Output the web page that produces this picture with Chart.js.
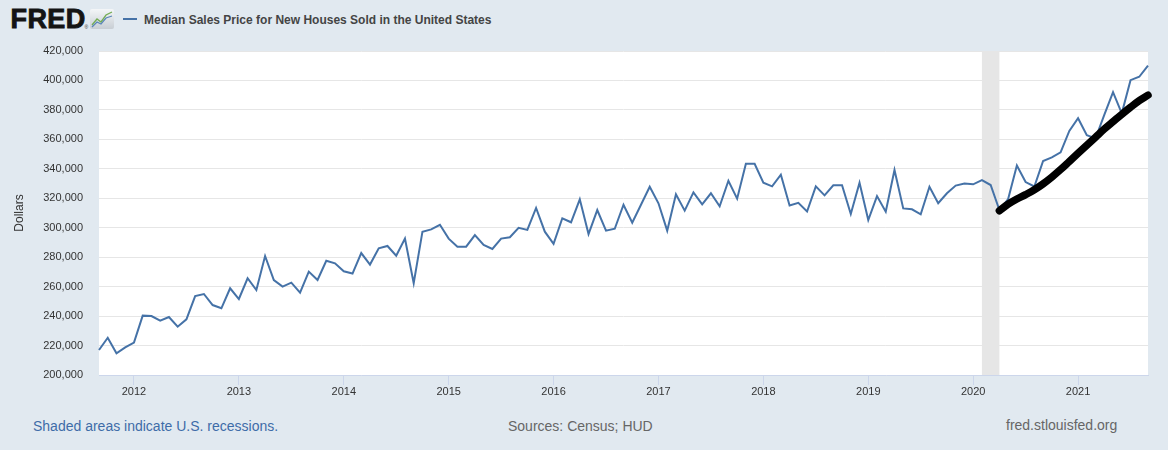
<!DOCTYPE html>
<html><head><meta charset="utf-8">
<script src="https://cdn.jsdelivr.net/npm/chart.js@4.4.1/dist/chart.umd.min.js"></script>
<style>
html,body{margin:0;padding:0;}
body{width:1168px;height:450px;background:#e1e9f0;position:relative;overflow:hidden;font-family:"Liberation Sans",Arial,sans-serif;}
.t{position:absolute;line-height:1;white-space:nowrap;}
#wrap{position:absolute;left:0;top:0;width:1168px;height:400px;}
</style></head><body>
<div class="t" style="left:10.5px;top:6.4px;font-size:27px;font-weight:bold;color:#141414;letter-spacing:0.4px;-webkit-text-stroke:0.9px #141414">FRED</div>
<div class="t" style="left:84.5px;top:25px;font-size:5px;color:#333">®</div>
<svg style="position:absolute;left:90px;top:9px" width="24" height="20" viewBox="0 0 24 20">
 <defs><linearGradient id="g" x1="0" y1="0" x2="0" y2="1"><stop offset="0" stop-color="#f4f6f8"/><stop offset="1" stop-color="#c8ced4"/></linearGradient></defs>
 <rect x="0" y="0" width="24" height="20" rx="2" fill="url(#g)"/>
 <polyline points="2,16 7,10 11,13 16,6 22,3" fill="none" stroke="#74ad55" stroke-width="1.3"/>
 <polyline points="2,18 7,13 11,15 16,9 22,7" fill="none" stroke="#5b87b8" stroke-width="1.3"/>
</svg>
<div style="position:absolute;left:123px;top:18px;width:14px;height:2px;background:#4572a7"></div>
<div class="t" style="left:144px;top:13.8px;font-size:12px;font-weight:bold;color:#444">Median Sales Price for New Houses Sold in the United States</div>
<div id="wrap"><canvas id="c" width="1168" height="400"></canvas></div>
<div class="t" style="left:33px;top:418.6px;font-size:14px;color:#3e6ca8">Shaded areas indicate U.S. recessions.</div>
<div class="t" style="left:508px;top:418.6px;font-size:14px;color:#666">Sources: Census; HUD</div>
<div class="t" style="left:1006px;top:418.3px;font-size:14px;color:#666">fred.stlouisfed.org</div>
<script>
const categories = [
 '2011-09','2011-10','2011-11','2011-12',
 '2012-01','2012-02','2012-03','2012-04','2012-05','2012-06','2012-07','2012-08','2012-09','2012-10','2012-11','2012-12',
 '2013-01','2013-02','2013-03','2013-04','2013-05','2013-06','2013-07','2013-08','2013-09','2013-10','2013-11','2013-12',
 '2014-01','2014-02','2014-03','2014-04','2014-05','2014-06','2014-07','2014-08','2014-09','2014-10','2014-11','2014-12',
 '2015-01','2015-02','2015-03','2015-04','2015-05','2015-06','2015-07','2015-08','2015-09','2015-10','2015-11','2015-12',
 '2016-01','2016-02','2016-03','2016-04','2016-05','2016-06','2016-07','2016-08','2016-09','2016-10','2016-11','2016-12',
 '2017-01','2017-02','2017-03','2017-04','2017-05','2017-06','2017-07','2017-08','2017-09','2017-10','2017-11','2017-12',
 '2018-01','2018-02','2018-03','2018-04','2018-05','2018-06','2018-07','2018-08','2018-09','2018-10','2018-11','2018-12',
 '2019-01','2019-02','2019-03','2019-04','2019-05','2019-06','2019-07','2019-08','2019-09','2019-10','2019-11','2019-12',
 '2020-01','2020-02','2020-03','2020-04','2020-05','2020-06','2020-07','2020-08','2020-09','2020-10','2020-11','2020-12',
 '2021-01','2021-02','2021-03','2021-04','2021-05','2021-06','2021-07','2021-08','2021-09'
];
const prices = [
 217000,225300,214700,218700,
 222000,240300,240000,236900,239400,232800,237800,253600,255000,247500,245300,258900,
 251600,265700,257700,280800,264500,260000,262700,255900,270200,264500,277600,275800,
 270400,268900,282800,275000,286000,287600,281000,292600,262300,297300,298900,302000,
 292600,287100,287100,295000,288300,285600,292600,293500,299900,298500,313400,297300,
 289000,306400,303700,319300,295700,312000,298000,299300,315600,303400,315600,327800,
 316600,298000,322700,311600,324000,315800,323400,314500,331900,319700,343400,343400,
 330600,328100,336000,315100,316900,311000,328100,322000,328800,328800,309300,330600,
 305200,321500,310900,339200,313100,312500,309100,327800,316600,323400,328600,330000,
 329500,332400,329000,312000,319500,342300,331000,328000,345300,347800,351200,365700,
 374300,362800,360700,376600,392000,377700,400200,402500,410000
];
const trendMonths = ['2020-04','2020-05','2020-06','2020-07','2020-08','2020-09','2020-10','2020-11','2020-12',
 '2021-01','2021-02','2021-03','2021-04','2021-05','2021-06','2021-07','2021-08','2021-09'];
const trendValues = [311500,316000,319500,322500,325800,329800,334400,339500,345000,
 350500,356000,361500,367000,372000,377000,381800,386300,390000];
const yTicks = [200000,220000,240000,260000,280000,300000,320000,340000,360000,380000,400000,420000];
const recessionStart = '2020-02', recessionEnd = '2020-04';

const FONT = '"Liberation Sans", Arial, sans-serif';
const fmt = v => String(v).replace(/\B(?=(\d{3})+(?!\d))/g, ',');

const bgPlugin = {
  id: 'plotbg',
  beforeDraw(chart) {
    const a = chart.chartArea, c = chart.ctx;
    c.save(); c.fillStyle = '#ffffff';
    c.fillRect(a.left, a.top, a.right - a.left, a.bottom - a.top);
    c.restore();
  }
};
const recessionPlugin = {
  id: 'recession',
  beforeDatasetsDraw(chart) {
    const xs = chart.scales.x, a = chart.chartArea, c = chart.ctx;
    const x0 = xs.getPixelForValue(categories.indexOf(recessionStart));
    const x1 = xs.getPixelForValue(categories.indexOf(recessionEnd));
    c.save(); c.fillStyle = '#e6e6e6';
    c.fillRect(x0, a.top, x1 - x0, a.bottom - a.top);
    c.restore();
  }
};

new Chart(document.getElementById('c'), {
  type: 'line',
  data: {
    labels: categories,
    datasets: [
      { data: prices, borderColor: '#4572a7', borderWidth: 2, pointRadius: 0, tension: 0, order: 2 },
      { data: trendMonths.map((m, i) => ({ x: m, y: trendValues[i] })), borderColor: '#000000', borderWidth: 7.5,
        borderCapStyle: 'round', borderJoinStyle: 'round', pointRadius: 0, cubicInterpolationMode: 'monotone',
        clip: false, order: 1 }
    ]
  },
  options: {
    responsive: false, animation: false, devicePixelRatio: 1,
    layout: { padding: { top: 51, right: 20, left: 0, bottom: 0 } },
    plugins: { legend: { display: false }, tooltip: { enabled: false } },
    scales: {
      x: {
        type: 'category', offset: false,
        grid: { drawOnChartArea: false, drawTicks: true, tickLength: 10,
          color: c => (c.tick && c.tick.label) ? '#ccd6eb' : 'rgba(0,0,0,0)' },
        border: { color: '#ccd6eb', width: 1 },
        ticks: { autoSkip: false, maxRotation: 0, padding: 0, color: '#333', font: { family: FONT, size: 11 },
          callback: (v, i) => categories[i].endsWith('-01') ? categories[i].slice(0, 4) : '' },
        afterFit: s => { s.height = 25; }
      },
      y: {
        min: 200000, max: 420000,
        afterBuildTicks: s => { s.ticks = yTicks.map(v => ({ value: v })); },
        ticks: { padding: 16, color: '#333', font: { family: FONT, size: 11 }, callback: v => fmt(v) },
        grid: { color: '#e6e6e6', drawTicks: false },
        border: { display: false },
        title: { display: true, text: 'Dollars', color: '#333', font: { family: FONT, size: 12 }, padding: { top: 12, bottom: 0 } },
        afterFit: s => { s.width = 99; }
      }
    }
  },
  plugins: [bgPlugin, recessionPlugin]
});
</script>
</body></html>
